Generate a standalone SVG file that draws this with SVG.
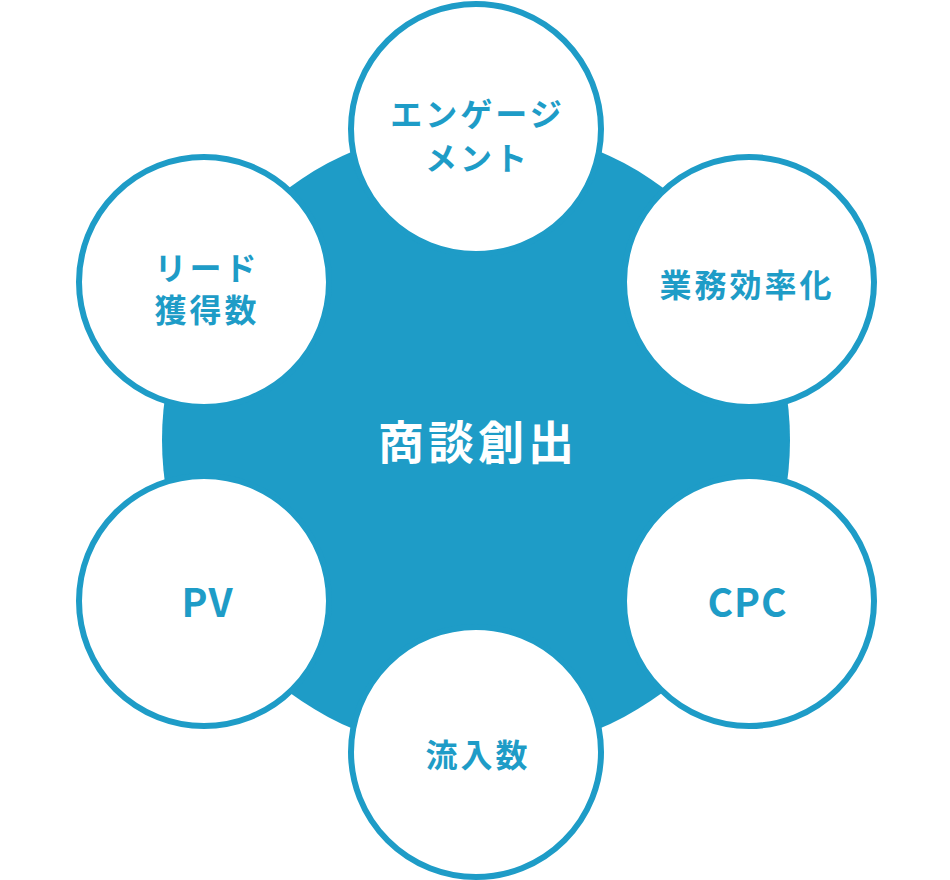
<svg xmlns="http://www.w3.org/2000/svg" width="950" height="880" viewBox="0 0 950 880">
<style>
.bg{fill:#1e9cc7}
.node circle{fill:#ffffff;stroke:#1e9cc7;stroke-width:6}
.lbl{font-family:"Noto Sans CJK JP","Noto Sans",sans-serif;font-weight:700;font-size:32px;fill:#1e9cc7;text-anchor:middle;letter-spacing:3px}
.lat{font-family:"Noto Sans CJK JP","Noto Sans",sans-serif;font-weight:700;font-size:39px;fill:#1e9cc7;text-anchor:middle;letter-spacing:1px}
.center{font-family:"Noto Sans CJK JP","Noto Sans",sans-serif;font-weight:700;font-size:46px;fill:#ffffff;text-anchor:middle;letter-spacing:4px}
</style>
<rect width="950" height="880" fill="#ffffff"/>
<g id="hub">
<circle class="bg" cx="476" cy="440" r="314"/>
<text class="center" x="478" y="459">商談創出</text>
</g>
<g id="connectors"></g>
<g id="node-engagement" class="node">
<circle cx="476" cy="129" r="125"/>
<text class="lbl" x="477.5" y="126">エンゲージ</text>
<text class="lbl" x="477.5" y="170">メント</text>
</g>
<g id="node-efficiency" class="node">
<circle cx="749" cy="282" r="125"/>
<text class="lbl" x="747" y="297">業務効率化</text>
</g>
<g id="node-cpc" class="node">
<circle cx="749" cy="601" r="125"/>
<text class="lat" x="747.5" y="617">CPC</text>
</g>
<g id="node-inflow" class="node">
<circle cx="476" cy="752" r="125"/>
<text class="lbl" x="478" y="767">流入数</text>
</g>
<g id="node-pv" class="node">
<circle cx="204" cy="601" r="125"/>
<text class="lat" x="207.5" y="617">PV</text>
</g>
<g id="node-lead" class="node">
<circle cx="204" cy="282" r="125"/>
<text class="lbl" x="207" y="280">リード</text>
<text class="lbl" x="207" y="322">獲得数</text>
</g>
</svg>
